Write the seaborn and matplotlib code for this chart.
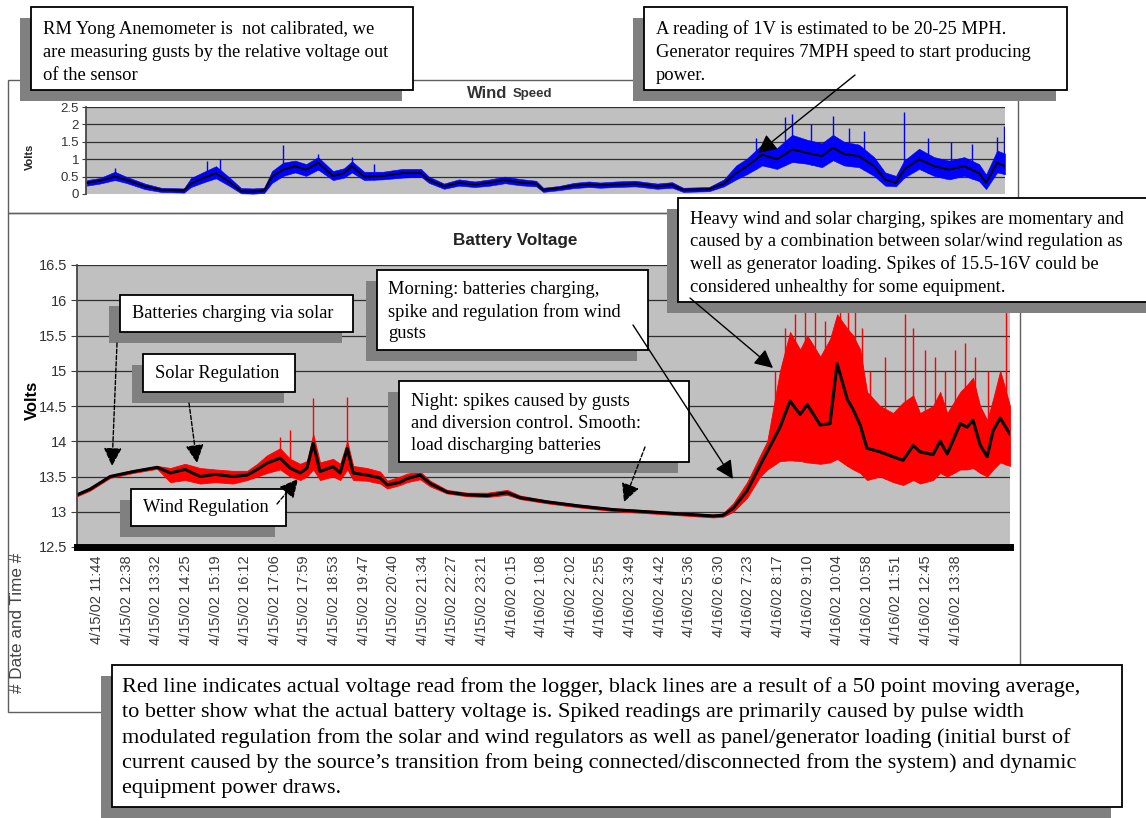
import numpy as np
import pandas as pd
import matplotlib
matplotlib.use("Agg")
import matplotlib.pyplot as plt
import seaborn as sns
from matplotlib.patches import Rectangle

# time axis in "tick label units" (0 = 4/15/02 11:44, 29 = 4/16/02 13:38)
tick_labels = ["4/15/02 11:44", "4/15/02 12:38", "4/15/02 13:32", "4/15/02 14:25",
               "4/15/02 15:19", "4/15/02 16:12", "4/15/02 17:06", "4/15/02 17:59",
               "4/15/02 18:53", "4/15/02 19:47", "4/15/02 20:40", "4/15/02 21:34",
               "4/15/02 22:27", "4/15/02 23:21", "4/16/02 0:15", "4/16/02 1:08",
               "4/16/02 2:02", "4/16/02 2:55", "4/16/02 3:49", "4/16/02 4:42",
               "4/16/02 5:36", "4/16/02 6:30", "4/16/02 7:23", "4/16/02 8:17",
               "4/16/02 9:10", "4/16/02 10:04", "4/16/02 10:58", "4/16/02 11:51",
               "4/16/02 12:45", "4/16/02 13:38"]

# wind speed sensor (volts): moving average and the spread of raw readings
wind_t = [-0.65, -0.2, 0.31, 0.69, 1.34, 1.89, 2.68, 2.92, 3.47, 3.78, 4.26, 4.64, 5.05, 5.43,
          5.7, 6.08, 6.49, 6.87, 7.28, 7.79, 8.17, 8.44, 8.86, 9.51, 10.16, 10.81, 11.08, 11.6,
          12.11, 12.66, 13.18, 13.69, 14.21, 14.76, 15.0, 15.54, 16.06, 16.57, 16.95, 17.5,
          18.15, 18.91, 19.42, 19.8, 20.69, 21.2, 21.62, 21.99, 22.51, 23.02, 23.54, 24.05,
          24.56, 24.94, 25.32, 25.83, 26.35, 26.73, 27.1, 27.38, 27.89, 28.41, 28.92, 29.44,
          29.95, 30.19, 30.57, 30.84]
wind_avg = [0.32, 0.38, 0.5, 0.41, 0.22, 0.12, 0.1, 0.3, 0.5, 0.6, 0.33, 0.08, 0.07, 0.1,
            0.5, 0.7, 0.8, 0.7, 0.9, 0.52, 0.6, 0.8, 0.5, 0.52, 0.6, 0.6, 0.4, 0.22,
            0.32, 0.27, 0.33, 0.4, 0.33, 0.3, 0.12, 0.17, 0.24, 0.27, 0.25, 0.27,
            0.3, 0.22, 0.26, 0.12, 0.14, 0.3, 0.6, 0.8, 1.13, 1.0, 1.28, 1.18,
            1.09, 1.33, 1.15, 1.09, 0.8, 0.41, 0.32, 0.7, 1.0, 0.8, 0.7, 0.8,
            0.6, 0.32, 0.9, 0.8]
wind_lo = [0.24, 0.3, 0.4, 0.32, 0.14, 0.06, 0.04, 0.2, 0.37, 0.45, 0.22, 0.02, 0.01, 0.03,
           0.32, 0.52, 0.62, 0.52, 0.7, 0.4, 0.47, 0.62, 0.4, 0.42, 0.47, 0.5, 0.32, 0.15,
           0.24, 0.2, 0.24, 0.31, 0.25, 0.22, 0.06, 0.11, 0.17, 0.2, 0.18, 0.2,
           0.22, 0.15, 0.18, 0.06, 0.08, 0.22, 0.42, 0.57, 0.82, 0.72, 0.92, 0.87,
           0.77, 0.97, 0.82, 0.77, 0.52, 0.24, 0.22, 0.47, 0.72, 0.52, 0.42, 0.52,
           0.37, 0.14, 0.62, 0.57]
wind_hi = [0.4, 0.46, 0.64, 0.5, 0.3, 0.18, 0.16, 0.46, 0.68, 0.8, 0.46, 0.17, 0.16, 0.18,
           0.66, 0.9, 0.96, 0.86, 1.06, 0.66, 0.74, 0.94, 0.64, 0.64, 0.72, 0.72, 0.5, 0.3,
           0.42, 0.36, 0.42, 0.5, 0.43, 0.38, 0.18, 0.23, 0.32, 0.36, 0.33, 0.36,
           0.38, 0.3, 0.34, 0.18, 0.2, 0.42, 0.82, 1.02, 1.42, 1.32, 1.7, 1.56,
           1.46, 1.7, 1.5, 1.42, 1.06, 0.62, 0.52, 0.96, 1.3, 1.06, 0.96, 1.06,
           0.86, 0.56, 1.25, 1.16]
wind_spike_t = [0.31, 3.47, 3.9, 6.08, 7.28, 8.44, 9.2, 22.3, 23.3, 23.54, 24.2, 24.94, 25.5,
                26.0, 27.38, 28.2, 29.0, 29.7, 30.57, 30.8]
wind_spike_v = [0.75, 0.95, 1.0, 1.42, 1.15, 1.05, 0.85, 1.6, 2.2, 2.3, 2.0, 2.25, 1.9,
                1.8, 2.35, 1.6, 1.5, 1.45, 1.65, 1.95]

# battery voltage: 50 point moving average and spread of logger readings
batt_t = [-0.68, -0.24, 0.44, 1.22, 2.03, 2.47, 2.97, 3.48, 3.99, 4.59, 5.07, 5.41, 5.74,
          6.18, 6.52, 6.86, 7.09, 7.3, 7.53, 7.97, 8.21, 8.45, 8.65, 9.12, 9.56, 9.8, 10.24,
          10.47, 10.91, 11.25, 11.82, 12.5, 13.18, 13.85, 14.29, 15.2, 16.32, 17.43, 18.58,
          19.7, 20.81, 21.15, 21.49, 21.96, 22.4, 22.64, 23.07, 23.41, 23.75, 23.99, 24.43,
          24.76, 25.0, 25.34, 25.54, 25.78, 26.01, 26.45, 26.89, 27.23, 27.57, 27.8, 28.24,
          28.48, 28.72, 29.16, 29.39, 29.59, 29.83, 30.07, 30.27, 30.51, 30.84]
batt_avg = [13.24, 13.32, 13.5, 13.57, 13.63, 13.55, 13.6, 13.5, 13.53, 13.5, 13.52, 13.6, 13.69,
            13.76, 13.62, 13.55, 13.62, 13.97, 13.57, 13.64, 13.55, 13.9, 13.55, 13.52, 13.48,
            13.38, 13.42, 13.47, 13.52, 13.4, 13.28, 13.24, 13.23, 13.27, 13.2, 13.14, 13.08,
            13.03, 13.0, 12.97, 12.94, 12.95, 13.05, 13.3, 13.66, 13.85, 14.2, 14.57, 14.38,
            14.52, 14.23, 14.25, 15.1, 14.6, 14.45, 14.23, 13.9, 13.85, 13.78, 13.73, 13.94,
            13.85, 13.81, 14.0, 13.82, 14.25, 14.2, 14.3, 13.95, 13.78, 14.15, 14.33, 14.1]
batt_lo = [13.22, 13.3, 13.48, 13.55, 13.61, 13.42, 13.45, 13.4, 13.42, 13.4, 13.45, 13.5, 13.55,
           13.6, 13.5, 13.45, 13.5, 13.6, 13.45, 13.5, 13.45, 13.6, 13.45, 13.44, 13.4,
           13.33, 13.38, 13.42, 13.46, 13.36, 13.26, 13.22, 13.21, 13.24, 13.18, 13.12, 13.06,
           13.01, 12.98, 12.95, 12.92, 12.93, 13.0, 13.2, 13.5, 13.6, 13.72, 13.73, 13.72,
           13.7, 13.68, 13.7, 13.75, 13.65, 13.6, 13.55, 13.45, 13.5, 13.42, 13.38, 13.45,
           13.4, 13.45, 13.55, 13.5, 13.6, 13.6, 13.62, 13.55, 13.5, 13.6, 13.7, 13.65]
batt_hi = [13.26, 13.34, 13.52, 13.59, 13.65, 13.62, 13.68, 13.62, 13.6, 13.58, 13.58, 13.68, 13.8,
           13.9, 13.75, 13.68, 13.72, 14.1, 13.7, 13.75, 13.68, 14.0, 13.65, 13.62, 13.57,
           13.44, 13.5, 13.54, 13.57, 13.44, 13.31, 13.27, 13.27, 13.31, 13.23, 13.16, 13.1,
           13.05, 13.02, 12.99, 12.96, 12.98, 13.12, 13.42, 13.8, 14.0, 15.0, 15.55, 15.3,
           15.5, 15.2, 15.45, 15.8, 15.6, 15.5, 15.3, 14.7, 14.5, 14.4, 14.55, 14.65,
           14.4, 14.5, 14.7, 14.4, 14.7, 14.8, 14.9, 14.5, 14.3, 14.6, 15.0, 14.5]
batt_spike_t = [6.18, 6.52, 7.3, 8.45, 22.9, 23.24, 23.58, 23.92, 24.26, 24.59, 25.1, 25.37,
                25.61, 25.84, 26.11, 26.62, 27.3, 27.57, 27.97, 28.31, 28.65, 28.99, 29.32,
                29.66, 30.1, 30.71]
batt_spike_v = [14.06, 14.16, 14.61, 14.63, 15.0, 15.6, 15.8, 15.85, 15.9, 15.7, 16.1, 15.9,
                15.95, 15.6, 15.0, 15.2, 15.8, 15.6, 15.3, 15.2, 15.0, 15.3, 15.4,
                15.2, 15.0, 15.9]

wind_yticks = [0, 0.5, 1, 1.5, 2, 2.5]
batt_yticks = [12.5, 13, 13.5, 14, 14.5, 15, 15.5, 16, 16.5]

wind = pd.DataFrame({"t": wind_t, "avg": wind_avg})
batt = pd.DataFrame({"t": batt_t, "avg": batt_avg})

sns.set_theme(style="white")
plt.rcParams["font.family"] = ["Liberation Sans", "DejaVu Sans"]

W, H = 1146, 818
fig = plt.figure(figsize=(W / 100, H / 100), dpi=100)
fig.patch.set_facecolor("white")


def px_box(x0, y0, x1, y1):
    return [x0 / W, 1 - y1 / H, (x1 - x0) / W, (y1 - y0) / H]


XMIN, XMAX = -0.68, 30.84

# wind speed chart
wax = fig.add_axes(px_box(86, 107, 1005, 194))
wax.set_facecolor("#c0c0c0")
wax.fill_between(wind_t, wind_lo, wind_hi, color="#0000ff", lw=0.4)
wax.vlines(wind_spike_t, np.interp(wind_spike_t, wind_t, wind_lo), wind_spike_v,
           color="#0000ff", lw=1)
sns.lineplot(data=wind, x="t", y="avg", ax=wax, color="black", lw=1.4,
             sort=False, estimator=None)
wax.set_xlim(XMIN, XMAX)
wax.set_ylim(0, 2.5)
wax.set_yticks(wind_yticks)
wax.set_yticklabels(["0", "0.5", "1", "1.5", "2", "2.5"], fontsize=9.5, color="#333333")
wax.set_xticks([])
wax.set_xlabel("")
wax.set_ylabel("")
for v in wind_yticks[1:]:
    wax.axhline(v, color="#303030", lw=0.9, zorder=0.5)
for s in ["top", "right", "bottom"]:
    wax.spines[s].set_visible(False)
wax.spines["left"].set_color("#404040")
wax.tick_params(axis="y", length=3, width=0.8, color="#404040", left=True, pad=2)

# battery voltage chart
bax = fig.add_axes(px_box(77, 265, 1010, 547))
bax.set_facecolor("#c0c0c0")
bax.fill_between(batt_t, batt_lo, batt_hi, color="#ff0000", lw=0.6)
bax.vlines(batt_spike_t, np.interp(batt_spike_t, batt_t, batt_lo), batt_spike_v,
           color="#ff0000", lw=1)
sns.lineplot(data=batt, x="t", y="avg", ax=bax, color="black", lw=2.2,
             sort=False, estimator=None)
bax.set_xlim(XMIN, XMAX)
bax.set_ylim(12.5, 16.5)
bax.set_yticks(batt_yticks)
bax.set_yticklabels(["12.5", "13", "13.5", "14", "14.5", "15", "15.5", "16", "16.5"],
                    fontsize=10.5, color="#333333")
bax.set_xticks(range(len(tick_labels)))
bax.set_xticklabels(tick_labels, rotation=90, fontsize=10.5, color="#3a3a3a")
bax.set_xlabel("")
bax.set_ylabel("")
for v in batt_yticks[1:]:
    bax.axhline(v, color="#303030", lw=0.9, zorder=0.5)
for s in ["top", "right"]:
    bax.spines[s].set_visible(False)
bax.spines["left"].set_color("#404040")
bax.spines["bottom"].set_color("black")
bax.spines["bottom"].set_linewidth(5)
bax.tick_params(axis="y", length=4, width=0.8, color="#404040", left=True, pad=3)
bax.tick_params(axis="x", length=0, pad=6)

# overlay in pixel coordinates for frames, titles and callouts
ov = fig.add_axes([0, 0, 1, 1], zorder=10)
ov.set_xlim(0, W)
ov.set_ylim(H, 0)
ov.axis("off")

ov.add_patch(Rectangle((8, 80), 1010, 133, fill=False, ec="#606060", lw=1))
ov.add_patch(Rectangle((8, 213), 1012, 499, fill=False, ec="#606060", lw=1))

ov.text(507, 93, "Wind", ha="right", va="center", fontsize=12,
        fontweight="bold", color="#333333")
ov.text(513, 94, "Speed", ha="left", va="center", fontsize=9.5,
        fontweight="bold", color="#333333")
ov.text(30, 157, "Volts", ha="center", va="center", rotation=90, fontsize=8,
        fontweight="bold", color="#222222")
ov.text(515, 241, "Battery Voltage", ha="center", va="center", fontsize=12.3,
        fontweight="bold", color="#222222")
ov.text(32, 400, "Volts", ha="center", va="center", rotation=90, fontsize=12,
        fontweight="bold", color="black")
ov.text(18, 553, "# Date and Time #", ha="center", va="top", rotation=90,
        fontsize=12.3, color="#444444")

serif = ["Liberation Serif", "DejaVu Serif"]
callouts = [
    # x0, y0, x1, y1, text x, first line y, line step, font size, lines
    (31, 7, 413, 90, 43, 29, 23.5, 13.3,
     ["RM Yong Anemometer is  not calibrated, we",
      "are measuring gusts by the relative voltage out",
      "of the sensor"]),
    (644, 7, 1067, 90, 656, 29, 23.5, 13.3,
     ["A reading of 1V is estimated to be 20-25 MPH.",
      "Generator requires 7MPH speed to start producing",
      "power."]),
    (678, 198, 1160, 302, 690, 219, 22.7, 13.3,
     ["Heavy wind and solar charging, spikes are momentary and",
      "caused by a combination between solar/wind regulation as",
      "well as generator loading. Spikes of 15.5-16V could be",
      "considered unhealthy for some equipment."]),
    (120, 295, 353, 332, 132, 314, 0, 13.2,
     ["Batteries charging via solar"]),
    (143, 354, 295, 392, 155, 373, 0, 13.2,
     ["Solar Regulation"]),
    (131, 489, 286, 526, 143, 508, 0, 13.2,
     ["Wind Regulation"]),
    (377, 270, 648, 350, 388, 290, 22, 13.3,
     ["Morning: batteries charging,",
      "spike and regulation from wind",
      "gusts"]),
    (399, 381, 689, 462, 411, 401, 22, 13.3,
     ["Night: spikes caused by gusts",
      "and diversion control. Smooth:",
      "load discharging batteries"]),
    (112, 665, 1122, 807, 122, 687, 25.5, 16,
     ["Red line indicates actual voltage read from the logger, black lines are a result of a 50 point moving average,",
      "to better show what the actual battery voltage is. Spiked readings are primarily caused by pulse width",
      "modulated regulation from the solar and wind regulators as well as panel/generator loading (initial burst of",
      "current caused by the source\u2019s transition from being connected/disconnected from the system) and dynamic",
      "equipment power draws."]),
]
for x0, y0, x1, y1, tx, ty, step, fs, lines in callouts:
    ov.add_patch(Rectangle((x0 - 11, y0 + 11), x1 - x0, y1 - y0, fc="#808080", ec="none"))
    ov.add_patch(Rectangle((x0, y0), x1 - x0, y1 - y0, fc="white", ec="black", lw=1.3))
    for i, line in enumerate(lines):
        ov.text(tx, ty + i * step, line, ha="left", va="center", fontsize=fs,
                family=serif, color="black")

arrows = [
    # start, end, dashed
    ((855, 75), (758, 153), False),
    ((690, 298), (773, 368), False),
    ((117, 343), (112, 466), True),
    ((189, 403), (197, 463), True),
    ((277, 504), (298, 479), True),
    ((633, 325), (733, 479), False),
    ((645, 447), (624, 502), True),
]
for start, end, dashed in arrows:
    ov.annotate("", xy=end, xytext=start,
                arrowprops=dict(arrowstyle="-|>,head_length=0.7,head_width=0.35",
                                color="black", lw=1,
                                linestyle=(0, (3, 1.5)) if dashed else "-",
                                mutation_scale=16, shrinkA=0, shrinkB=0))

fig.savefig("out.png", dpi=100, facecolor="white")
